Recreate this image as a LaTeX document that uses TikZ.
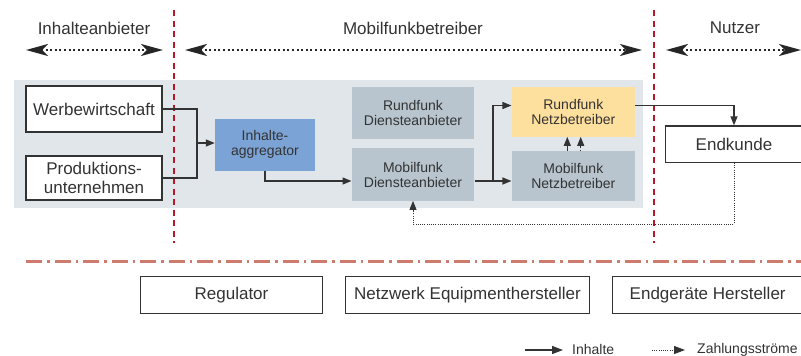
\documentclass[tikz,border=0pt]{standalone}
\usepackage{fontspec}
\setmainfont{Liberation Sans}
\usetikzlibrary{arrows.meta}
\definecolor{txt}{HTML}{333333}
\definecolor{linec}{HTML}{333333}
\definecolor{panel}{HTML}{E1E6EA}
\definecolor{greybox}{HTML}{B8C5CE}
\definecolor{bluebox}{HTML}{7BA3D6}
\definecolor{yellowbox}{HTML}{FDDF9E}
\definecolor{redline}{HTML}{B5182B}
\definecolor{salmon}{HTML}{CC7B6C}
\tikzset{
  whitebox/.style={draw=linec, line width=1.4pt, fill=white, inner sep=0pt, align=center, text=txt,
    font=\fontsize{17}{18.4}\selectfont},
  fillbox/.style={inner sep=0pt, align=center, text=txt, font=\fontsize{14}{15}\selectfont},
  conn/.style={draw=linec, line width=1.3pt, -{Triangle[length=9pt,width=7pt]}},
  plainconn/.style={draw=linec, line width=1.3pt},
  pay/.style={draw=linec, line width=1pt, dash pattern=on 1pt off 1.2pt, -{Triangle[length=9pt,width=7pt]}},
  dbl/.style={draw=black!85, line width=2pt, dash pattern=on 2pt off 2.6pt,
    {Stealth[length=22pt,width=12pt,inset=6pt]}-{Stealth[length=22pt,width=12pt,inset=6pt]}},
  toplabel/.style={text=txt, font=\fontsize{17}{18}\selectfont, inner sep=0pt},
  redv/.style={draw=redline, line width=2.8pt, dash pattern=on 6pt off 4.5pt},
  legtext/.style={text=txt, font=\fontsize{14}{15}\selectfont, inner sep=0pt, anchor=west}
}
\begin{document}
\begin{tikzpicture}[x=1pt,y=-1pt]
\useasboundingbox[fill=white] (0,0) rectangle (801,356);

% panel
\fill[panel] (14,80) rectangle (643,208);

% top labels and arrows
\node[toplabel] (lab1) at (94,28) {Inhalteanbieter};
\node[toplabel] (lab2) at (413,28) {Mobilfunkbetreiber};
\node[toplabel] (lab3) at (735,28) {Nutzer};
\coordinate (a1l) at (26,50); \coordinate (a1r) at (163,50);
\coordinate (a2l) at (185,50); \coordinate (a2r) at (642,50);
\coordinate (a3l) at (666,50); \coordinate (a3r) at (801,50);
\draw[dbl] (a1l) -- (a1r);
\draw[dbl] (a2l) -- (a2r);
\draw[dbl] (a3l) -- (a3r);

% boxes
\node[whitebox, minimum width=136pt, minimum height=46pt] (ww) at (94,109) {Werbewirtschaft};
\node[whitebox, minimum width=136pt, minimum height=44pt] (pu) at (94,178) {Produktions-\\unternehmen};
\node[fillbox, fill=bluebox, minimum width=100pt, minimum height=52pt] (agg) at (265,144.5) {Inhalte-\\aggregator};
\node[fillbox, fill=greybox, minimum width=122.6pt, minimum height=52pt] (rd) at (413,113.3) {Rundfunk\\Diensteanbieter};
\node[fillbox, fill=greybox, minimum width=122.6pt, minimum height=52.4pt] (md) at (413,174.5) {Mobilfunk\\Diensteanbieter};
\node[fillbox, fill=yellowbox, minimum width=123.3pt, minimum height=49.4pt] (rn) at (573.3,112) {Rundfunk\\Netzbetreiber};
\node[fillbox, fill=greybox, minimum width=123.3pt, minimum height=50pt] (mn) at (573.3,175.7) {Mobilfunk\\Netzbetreiber};
\node[whitebox, minimum width=137pt, minimum height=36.3pt] (ek) at (734,144.2) {Endkunde};

% red vertical separators
\coordinate (v1t) at (174,10); \coordinate (v1b) at (174,243);
\coordinate (v2t) at (654,10); \coordinate (v2b) at (654,243);
\draw[redv] (v1t) -- (v1b);
\draw[redv] (v2t) -- (v2b);

% connectors
\coordinate (jn) at (197,143);
\coordinate (lvl) at (0,181);
\coordinate (lvl2) at (0,105.5);
\coordinate (sp) at (493,181);
\draw[plainconn] (ww.east) -| (jn);
\draw[plainconn] (pu.east) -| (jn);
\draw[conn] (jn) -- (agg.west |- jn);
\draw[conn] (agg.south) |- (md.west |- lvl);
\draw[plainconn] (md.east |- lvl) -- (sp);
\draw[conn] (sp) -- (mn.west |- lvl);
\draw[conn] (sp) |- (rn.west |- lvl2);
\draw[conn] (rn.east |- lvl2) -| (ek.north);
\coordinate (ux1) at (567.3,0);
\coordinate (ux2) at (580.7,0);
\draw[conn] (mn.north -| ux1) -- (rn.south -| ux1);
\draw[pay] (mn.north -| ux2) -- (rn.south -| ux2);
\coordinate (pl) at (600,224);
\draw[pay] (ek.south) |- (pl) -| (md.south);

% dash-dot separator
\coordinate (hl) at (26,261); \coordinate (hr) at (801,261);
\draw[draw=salmon, line width=3pt, dash pattern=on 16pt off 5pt on 2.5pt off 5pt] (hl) -- (hr);

% bottom boxes
\node[whitebox, minimum width=181.6pt, minimum height=36.6pt] (reg) at (231.5,295) {Regulator};
\node[whitebox, minimum width=243.6pt, minimum height=36.6pt] (net) at (467.5,295) {Netzwerk Equipmenthersteller};
\node[whitebox, minimum width=190pt, minimum height=36.6pt] (eg) at (707.7,295) {Endgeräte Hersteller};

% legend
\coordinate (l1a) at (525,350); \coordinate (l1b) at (563,350);
\coordinate (l2a) at (652,350); \coordinate (l2b) at (685,350);
\draw[draw=linec, line width=1.3pt, -{Triangle[length=11pt,width=8pt]}] (l1a) -- (l1b);
\draw[draw=linec, line width=1pt, dash pattern=on 1pt off 1.2pt, -{Triangle[length=11pt,width=8pt]}] (l2a) -- (l2b);
\node[legtext] (li) at (572,349.5) {Inhalte};
\node[legtext] (lz) at (697,349.5) {Zahlungsströme};
\end{tikzpicture}
\end{document}
